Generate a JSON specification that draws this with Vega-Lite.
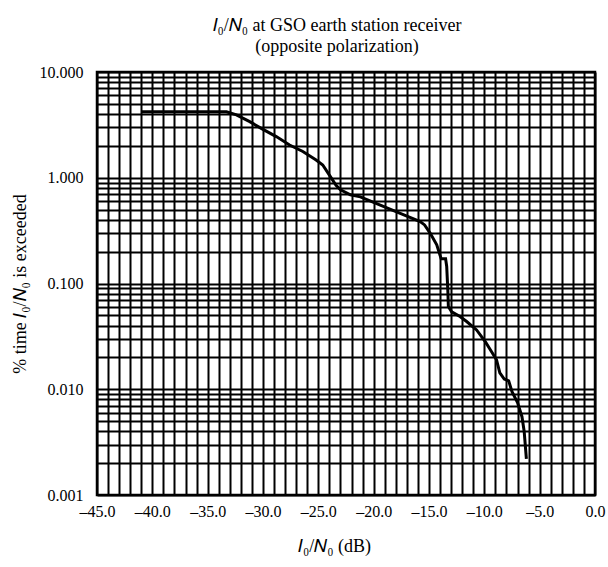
{
  "$schema": "https://vega.github.io/schema/vega-lite/v6.json",
  "autosize": "none",
  "padding": {"left": 97, "top": 72, "right": 13, "bottom": 72},
  "width": 498,
  "height": 423,
  "background": "white",
  "config": {
    "font": "Liberation Serif",
    "view": {"stroke": "black", "strokeWidth": 2.5},
    "axis": {
      "gridColor": "black",
      "gridWidth": 2,
      "gridOpacity": 1,
      "ticks": false,
      "domain": false,
      "labelFont": "Liberation Serif",
      "labelFontSize": 16,
      "labelColor": "black",
      "titleFont": "Liberation Serif",
      "titleFontSize": 18,
      "titleFontWeight": "normal",
      "titleColor": "black",
      "labelOverlap": false,
      "labelFlush": false,
      "labelBound": false
    }
  },
  "title": {
    "text": ["𝐼₀/𝑁₀ at GSO earth station receiver", "(opposite polarization)"],
    "font": "Liberation Serif",
    "fontSize": 18,
    "fontWeight": "normal",
    "lineHeight": 21,
    "color": "black",
    "anchor": "middle",
    "dx": -9,
    "offset": 8
  },
  "data": {
    "values": [
      {"x": -41.0, "y": 4.2},
      {"x": -33.3, "y": 4.2},
      {"x": -32.4, "y": 3.93},
      {"x": -31.2, "y": 3.39},
      {"x": -30.0, "y": 2.87},
      {"x": -28.8, "y": 2.45},
      {"x": -27.6, "y": 2.04},
      {"x": -26.4, "y": 1.77},
      {"x": -25.2, "y": 1.47},
      {"x": -24.6, "y": 1.32},
      {"x": -24.0, "y": 1.06},
      {"x": -23.4, "y": 0.85},
      {"x": -23.0, "y": 0.77},
      {"x": -22.1, "y": 0.69},
      {"x": -21.2, "y": 0.66},
      {"x": -19.4, "y": 0.55},
      {"x": -17.6, "y": 0.46},
      {"x": -15.8, "y": 0.385},
      {"x": -15.4, "y": 0.358},
      {"x": -14.9, "y": 0.3},
      {"x": -14.3, "y": 0.232},
      {"x": -13.9, "y": 0.171},
      {"x": -13.5, "y": 0.171},
      {"x": -13.4, "y": 0.145},
      {"x": -13.3, "y": 0.087},
      {"x": -13.25, "y": 0.0605},
      {"x": -12.95, "y": 0.054},
      {"x": -12.2, "y": 0.0487},
      {"x": -11.6, "y": 0.0437},
      {"x": -10.7, "y": 0.0364},
      {"x": -9.9, "y": 0.028},
      {"x": -9.5, "y": 0.024},
      {"x": -8.9, "y": 0.019},
      {"x": -8.6, "y": 0.0143},
      {"x": -8.2, "y": 0.0125},
      {"x": -7.8, "y": 0.012},
      {"x": -7.5, "y": 0.0095},
      {"x": -7.0, "y": 0.0075},
      {"x": -6.6, "y": 0.0055},
      {"x": -6.4, "y": 0.004},
      {"x": -6.2, "y": 0.0022}
    ]
  },
  "mark": {"type": "line", "color": "black", "strokeWidth": 3, "clip": true},
  "encoding": {
    "x": {
      "field": "x",
      "type": "quantitative",
      "scale": {"domain": [-45, 0], "nice": false, "zero": false},
      "axis": {
        "title": "𝐼₀/𝑁₀ (dB)",
        "values": [-45,-44,-43,-42,-41,-40,-39,-38,-37,-36,-35,-34,-33,-32,-31,-30,-29,-28,-27,-26,-25,-24,-23,-22,-21,-20,-19,-18,-17,-16,-15,-14,-13,-12,-11,-10,-9,-8,-7,-6,-5,-4,-3,-2,-1,0],
        "labelExpr": "datum.value % 5 == 0 ? replace(format(datum.value, '.1f'), '−', '–') : ''",
        "labelPadding": 8,
        "titleX": 237,
        "titleY": 56,
        "titleBaseline": "alphabetic"
      }
    },
    "y": {
      "field": "y",
      "type": "quantitative",
      "scale": {"type": "log", "domain": [0.001, 10], "nice": false},
      "axis": {
        "title": "% time 𝐼₀/𝑁₀ is exceeded",
        "values": [0.001,0.002,0.003,0.004,0.005,0.006,0.007,0.008,0.009,0.01,0.02,0.03,0.04,0.05,0.06,0.07,0.08,0.09,0.1,0.2,0.3,0.4,0.5,0.6,0.7,0.8,0.9,1,2,3,4,5,6,7,8,9,10],
        "labelExpr": "abs(log(datum.value)/LN10 - round(log(datum.value)/LN10)) < 0.001 ? format(datum.value, '.3f') : ''",
        "labelPadding": 14,
        "titlePadding": 10
      }
    }
  }
}
